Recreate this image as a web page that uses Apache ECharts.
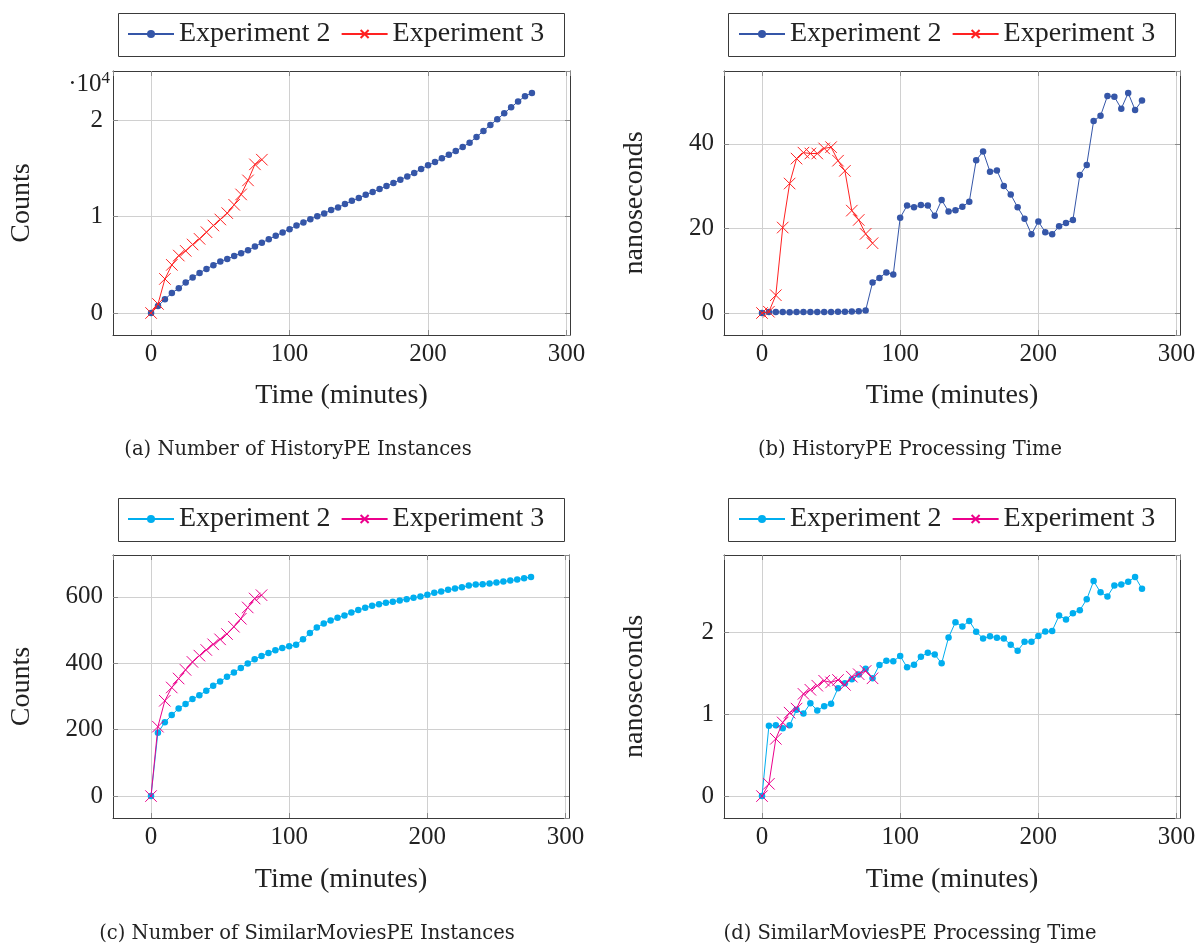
<!DOCTYPE html>
<html><head><meta charset="utf-8">
<script src="https://cdn.jsdelivr.net/npm/echarts@6/dist/echarts.min.js"></script>
<style>
html,body{margin:0;padding:0;background:#fff;}
#wrap{position:relative;width:1199px;height:945px;overflow:hidden;}
.q{position:absolute;}
</style></head><body>
<div id="wrap">
<div id="qa" class="q" style="left:0;top:0;width:600px;height:472px"></div>
<div id="qb" class="q" style="left:600px;top:0;width:599px;height:472px"></div>
<div id="qc" class="q" style="left:0;top:472px;width:600px;height:473px"></div>
<div id="qd" class="q" style="left:600px;top:472px;width:599px;height:473px"></div>
</div>
<script>
// ---- data ----
const timeExp2 = [0,5,10,15,20,25,30,35,40,45,50,55,60,65,70,75,80,85,90,95,100,105,110,115,120,125,130,135,140,145,150,155,160,165,170,175,180,185,190,195,200,205,210,215,220,225,230,235,240,245,250,255,260,265,270,275];
const timeExp3 = [0,5,10,15,20,25,30,35,40,45,50,55,60,65,70,75,80];

const historyCountExp2 = [0,728,1421,2080,2565,3154,3674,4159,4575,4957,5338,5615,5927,6205,6516,6898,7279,7660,8007,8354,8700,9081,9393,9740,10052,10329,10676,10953,11300,11646,11924,12270,12548,12860,13172,13484,13830,14177,14523,14939,15321,15667,16049,16430,16811,17227,17678,18267,18891,19515,20104,20728,21352,21941,22496,22830];
const historyCountExp3 = [0,936,3536,4991,5962,6447,7106,7695,8388,9081,9705,10364,11230,12305,13761,15425,15910];

const historyTimeExp2 = [0,0.25,0.25,0.25,0.2,0.25,0.25,0.25,0.25,0.25,0.25,0.3,0.3,0.35,0.4,0.6,7.2,8.3,9.6,9.1,22.5,25.4,25.0,25.5,25.4,23.0,26.7,24.0,24.3,25.1,26.3,36.1,38.2,33.4,33.7,30.0,28.0,25.0,22.3,18.6,21.6,19.1,18.6,20.5,21.3,22.0,32.6,35.0,45.4,46.6,51.3,51.1,48.3,52.0,48.0,50.2];
const historyTimeExp3 = [0,0.3,4.2,20.2,30.6,36.5,37.9,37.7,37.7,38.9,39.2,36.0,33.6,24.2,22.0,18.7,16.5];

const similarCountExp2 = [0,191,222,244,264,277,292,304,317,332,345,359,372,386,399,412,422,431,439,446,451,456,472,491,508,520,529,537,544,553,560,567,573,578,582,585,589,593,597,601,606,612,616,621,625,629,634,637,638,640,643,646,649,652,656,660];
const similarCountExp3 = [0,209,287,327,354,380,404,423,440,457,472,488,510,534,568,595,605];

const similarTimeExp2 = [0,0.86,0.865,0.83,0.865,1.055,1.01,1.135,1.048,1.10,1.13,1.318,1.38,1.43,1.487,1.556,1.44,1.604,1.656,1.648,1.713,1.575,1.606,1.704,1.753,1.732,1.623,1.939,2.126,2.073,2.142,2.008,1.927,1.955,1.935,1.927,1.85,1.777,1.886,1.886,1.959,2.012,2.02,2.207,2.158,2.235,2.272,2.406,2.629,2.491,2.442,2.576,2.588,2.621,2.68,2.535];
const similarTimeExp3 = [0,0.15,0.70,0.90,1.02,1.07,1.25,1.30,1.35,1.41,1.39,1.42,1.36,1.46,1.49,1.53,1.44];

const seriesNames = ['Experiment 2','Experiment 3'];
const xTitle = 'Time (minutes)';

// ---- styling / layout ----
const SERIF = '"Liberation Serif", "Times New Roman", serif';
const CAPFONT = '"DejaVu Serif", serif';
const TXT = '#222';
const CROSS = 'path://M0,0L10,10M10,0L0,10';

function panel(elId, cfg) {
  const chart = echarts.init(document.getElementById(elId), null, {renderer: 'canvas'});
  const gl = cfg.gridLeft, gt = cfg.gridTop, gw = cfg.gridW, gh = cfg.gridH;
  const xMin = -27.5, xMax = 302.5;
  const axisLineStyle = {show: true, onZero: false, lineStyle: {color: '#3a3a3a', width: 1}};
  const tickStyle = {show: true, inside: true, length: 5, lineStyle: {color: '#8a8a8a', width: 1}};
  const splitStyle = {show: true, lineStyle: {color: '#d0d0d0', width: 1}};
  const xFmt = v => (Math.abs(v % 100) < 1e-9 ? String(v) : '');
  const yFmt = v => {
    const r = v / cfg.yStep;
    if (Math.abs(r - Math.round(r)) > 1e-6) return '';
    return cfg.yLabel(v);
  };
  const graphics = [
    {type: 'rect', shape: {x: cfg.legBox[0] + 0.5, y: cfg.legBox[1] + 0.5, width: cfg.legBox[2], height: cfg.legBox[3]},
      style: {fill: 'none', stroke: '#3a3a3a', lineWidth: 1}, silent: true},
    {type: 'text', x: gl + gw / 2, y: cfg.xTitleY, style: {text: xTitle, font: '28px ' + SERIF, fill: TXT, textAlign: 'center', textVerticalAlign: 'middle'}},
    {type: 'text', x: cfg.yTitleX, y: gt + gh / 2, rotation: Math.PI / 2, style: {text: cfg.yTitle, font: '28px ' + SERIF, fill: TXT, textAlign: 'center', textVerticalAlign: 'middle'}},
    {type: 'text', x: cfg.capX, y: cfg.capY, style: {text: cfg.caption, font: '19.5px ' + CAPFONT, fill: TXT, textAlign: 'center', textVerticalAlign: 'middle'}}
  ];
  if (cfg.extraGraphics) graphics.push(...cfg.extraGraphics);
  chart.setOption({
    animation: false,
    backgroundColor: '#fff',
    grid: {left: gl, top: gt, width: gw, height: gh, containLabel: false, show: false},
    legend: {
      data: seriesNames, left: cfg.legLeft, top: cfg.legTop, padding: 0, itemWidth: 46, itemHeight: 10, itemGap: 10,
      selectedMode: false, textStyle: {fontSize: 28, fontFamily: SERIF, color: TXT}
    },
    xAxis: [
      {type: 'value', min: xMin, max: xMax, minInterval: 100, maxInterval: 100, splitNumber: 3, position: 'bottom',
        axisLine: axisLineStyle, axisTick: tickStyle, splitLine: splitStyle,
        axisLabel: {show: true, margin: 7, fontSize: 25, fontFamily: SERIF, color: TXT, showMinLabel: false, showMaxLabel: false, formatter: xFmt}},
      {type: 'value', min: xMin, max: xMax, minInterval: 100, maxInterval: 100, splitNumber: 3, position: 'top',
        axisLine: axisLineStyle, axisTick: tickStyle, splitLine: {show: false}, axisLabel: {show: false}}
    ],
    yAxis: [
      {type: 'value', min: cfg.yMin, max: cfg.yMax, minInterval: cfg.yStep, maxInterval: cfg.yStep, splitNumber: 3, position: 'left',
        axisLine: axisLineStyle, axisTick: tickStyle, splitLine: splitStyle,
        axisLabel: {show: true, margin: 10, fontSize: 25, fontFamily: SERIF, color: TXT, showMinLabel: false, showMaxLabel: false, formatter: yFmt}},
      {type: 'value', min: cfg.yMin, max: cfg.yMax, minInterval: cfg.yStep, maxInterval: cfg.yStep, splitNumber: 3, position: 'right',
        axisLine: axisLineStyle, axisTick: tickStyle, splitLine: {show: false}, axisLabel: {show: false}}
    ],
    series: [
      {type: 'line', name: seriesNames[0], xAxisIndex: 0, yAxisIndex: 0, silent: true,
        data: timeExp2.map((t, i) => [t, cfg.v2[i]]),
        symbol: 'circle', symbolSize: 6.5, showAllSymbol: true,
        lineStyle: {width: 1, color: cfg.c2}, itemStyle: {color: cfg.c2}, z: 3},
      {type: 'line', name: seriesNames[1], xAxisIndex: 0, yAxisIndex: 0, silent: true,
        data: timeExp3.map((t, i) => [t, cfg.v3[i]]),
        symbol: CROSS, symbolSize: 11.5, showAllSymbol: true,
        lineStyle: {width: 1, color: cfg.c3}, itemStyle: {color: cfg.c3, borderColor: cfg.c3, borderWidth: 1}, z: 4}
    ],
    graphic: graphics
  });
}

const BLUE = '#3556a8', RED = '#ff2222', CYAN = '#00aeef', MAGENTA = '#ec008c';

panel('qa', {
  gridLeft: 113, gridTop: 71, gridW: 457, gridH: 264,
  yMin: -2283, yMax: 25113, yStep: 10000, yLabel: v => String(v / 10000),
  v2: historyCountExp2, v3: historyCountExp3, c2: BLUE, c3: RED,
  yTitle: 'Counts', yTitleX: 22, xTitleY: 396,
  caption: '(a) Number of HistoryPE Instances', capX: 298, capY: 450,
  legLeft: 127, legTop: 20, legBox: [118, 13, 446, 43],
  extraGraphics: [
    {type: 'text', x: 110, y: 84, style: {text: '\u00b710{s|4}', rich: {s: {fontSize: 17, fontFamily: SERIF, fill: TXT, verticalAlign: 'top', padding: [0, 0, 10, 0]}}, font: '25px ' + SERIF, fill: TXT, textAlign: 'right', textVerticalAlign: 'middle'}}
  ]
});
panel('qb', {
  gridLeft: 124, gridTop: 71, gridW: 456, gridH: 264,
  yMin: -5.2, yMax: 57.2, yStep: 20, yLabel: v => String(v),
  v2: historyTimeExp2, v3: historyTimeExp3, c2: BLUE, c3: RED,
  yTitle: 'nanoseconds', yTitleX: 35, xTitleY: 396,
  caption: '(b) HistoryPE Processing Time', capX: 310, capY: 450,
  legLeft: 138, legTop: 20, legBox: [128, 13, 447, 43]
});
panel('qc', {
  gridLeft: 113, gridTop: 83, gridW: 456, gridH: 263,
  yMin: -66, yMax: 726, yStep: 200, yLabel: v => String(v),
  v2: similarCountExp2, v3: similarCountExp3, c2: CYAN, c3: MAGENTA,
  yTitle: 'Counts', yTitleX: 22, xTitleY: 408,
  caption: '(c) Number of SimilarMoviesPE Instances', capX: 307, capY: 462,
  legLeft: 127, legTop: 33, legBox: [118, 26, 446, 43]
});
panel('qd', {
  gridLeft: 124, gridTop: 83, gridW: 456, gridH: 263,
  yMin: -0.268, yMax: 2.948, yStep: 1, yLabel: v => String(v),
  v2: similarTimeExp2, v3: similarTimeExp3, c2: CYAN, c3: MAGENTA,
  yTitle: 'nanoseconds', yTitleX: 35, xTitleY: 408,
  caption: '(d) SimilarMoviesPE Processing Time', capX: 310, capY: 462,
  legLeft: 138, legTop: 33, legBox: [128, 26, 447, 43]
});
</script>
</body></html>
